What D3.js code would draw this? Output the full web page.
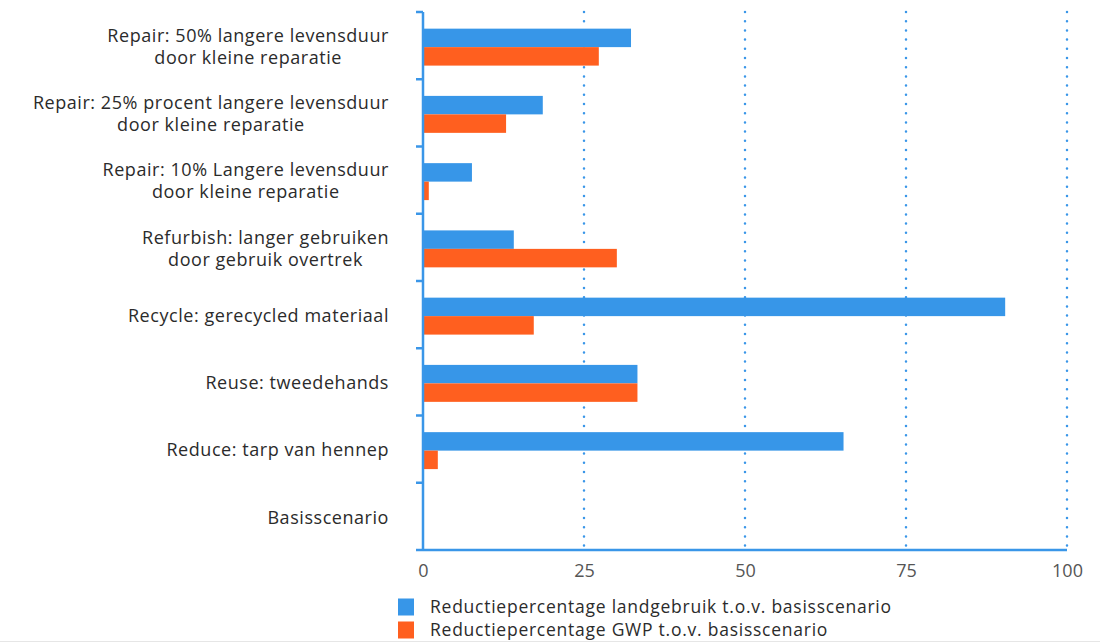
<!DOCTYPE html>
<html>
<head>
<meta charset="utf-8">
<script src="https://cdn.jsdelivr.net/npm/d3@7"></script>
<style>
  html, body { margin: 0; padding: 0; background: #fff; }
  svg { display: block; }
</style>
</head>
<body>
<svg id="chart" width="1100" height="643"></svg>
<script>
// ---- data ----
const categories = [
  ["Repair: 50% langere levensduur", "door kleine reparatie"],
  ["Repair: 25% procent langere levensduur", "door kleine reparatie"],
  ["Repair: 10% Langere levensduur", "door kleine reparatie"],
  ["Refurbish: langer gebruiken", "door gebruik overtrek"],
  ["Recycle: gerecycled materiaal"],
  ["Reuse: tweedehands"],
  ["Reduce: tarp van hennep"],
  ["Basisscenario"]
];
const landgebruik = [32.3, 18.6, 7.6, 14.1, 90.4, 33.3, 65.3, 0];
const gwp = [27.3, 12.9, 0.9, 30.1, 17.2, 33.3, 2.3, 0];
const seriesNames = [
  "Reductiepercentage landgebruik t.o.v. basisscenario",
  "Reductiepercentage GWP t.o.v. basisscenario"
];
const xTicks = [0, 25, 50, 75, 100];

// ---- styling ----
const BLUE = "#3796e8";
const ORANGE = "#ff5f1f";
const AXIS = "#3a96e8";
const FONT = "'Open Sans', 'Lato', sans-serif";

const svg = d3.select("#chart");
const margin = {left: 423, right: 33, top: 12, bottom: 93};
const W = 1100, H = 643;
const x0 = margin.left, x1 = W - margin.right;
const y0 = margin.top, y1 = H - margin.bottom;

const x = d3.scaleLinear().domain([0, 100]).range([x0, x1]);
const idx = d3.range(categories.length);
const y = d3.scaleBand().domain(idx).range([y0, y1]).paddingInner(0).paddingOuter(0);
const inner = d3.scaleBand().domain([0, 1]).range([0, y.bandwidth()]).paddingInner(0).paddingOuter(0.82);

// grid lines (dotted)
svg.append("g").selectAll("line").data(xTicks.filter(d => d > 0)).join("line")
  .attr("x1", d => x(d)).attr("x2", d => x(d))
  .attr("y1", y0).attr("y2", y1)
  .attr("stroke", AXIS).attr("stroke-width", 2.5)
  .attr("stroke-linecap", "round")
  .attr("stroke-dasharray", "0,9.2");

// bars
const series = [landgebruik, gwp];
const colors = [BLUE, ORANGE];
series.forEach((vals, s) => {
  svg.append("g").selectAll("rect").data(vals).join("rect")
    .attr("x", x(0))
    .attr("y", (d, i) => y(i) + inner(s) + 1.5)
    .attr("width", d => Math.max(0, x(d) - x(0)))
    .attr("height", inner.bandwidth())
    .attr("fill", colors[s]);
});

// y axis: line + ticks at band boundaries
const yAxisG = svg.append("g");
yAxisG.append("line")
  .attr("x1", x0).attr("x2", x0).attr("y1", y0).attr("y2", y1)
  .attr("stroke", AXIS).attr("stroke-width", 2.5);
const boundaries = idx.map(i => y(i)).concat([y1]);
yAxisG.selectAll("line.tick").data(boundaries).join("line")
  .attr("class", "tick")
  .attr("x1", x0 - 7).attr("x2", x0).attr("y1", d => d).attr("y2", d => d)
  .attr("stroke", AXIS).attr("stroke-width", 2.5);

// x axis baseline
svg.append("line")
  .attr("x1", x0).attr("x2", x1).attr("y1", y1).attr("y2", y1)
  .attr("stroke", AXIS).attr("stroke-width", 2.5);

// x tick labels via axis
const xAxis = d3.axisBottom(x).tickValues(xTicks).tickSize(0).tickPadding(14).tickFormat(d3.format("d"));
const xg = svg.append("g").attr("transform", `translate(0,${y1})`).call(xAxis);
xg.select(".domain").remove();
xg.selectAll("text").attr("font-family", FONT).attr("font-size", 18).attr("fill", "#555");

// category labels: block right-aligned, lines centered within block
const labelRight = 389;
const lineH = 22;
const lg = svg.append("g").attr("font-family", FONT).attr("font-size", 18)
  .attr("letter-spacing", "0.55px").attr("fill", "#2b2b2b");
categories.forEach((lines, i) => {
  const cy = y(i) + y.bandwidth() / 2 + 1;
  const t = lg.append("text").attr("text-anchor", "middle");
  lines.forEach((ln, j) => {
    t.append("tspan").attr("x", 0)
      .attr("y", cy + (j - (lines.length - 1) / 2) * lineH)
      .attr("dy", "0.35em").text(ln);
  });
  const bb = t.node().getBBox();
  t.attr("transform", `translate(${labelRight - bb.width / 2},0)`);
});

// legend
const leg = svg.append("g").attr("font-family", FONT).attr("font-size", 17.5)
  .attr("letter-spacing", "0.75px").attr("fill", "#2b2b2b");
seriesNames.forEach((name, s) => {
  const cy = 607 + s * 23;
  leg.append("rect").attr("x", 398).attr("y", cy - 8.5).attr("width", 16).attr("height", 17).attr("fill", colors[s]);
  leg.append("text").attr("x", 430).attr("y", cy).attr("dy", "0.35em").text(name);
});

// faint bottom rule
svg.append("line").attr("x1", 0).attr("x2", 1100).attr("y1", 641.5).attr("y2", 641.5)
  .attr("stroke", "#e6e6e6").attr("stroke-width", 1);
</script>
</body>
</html>
